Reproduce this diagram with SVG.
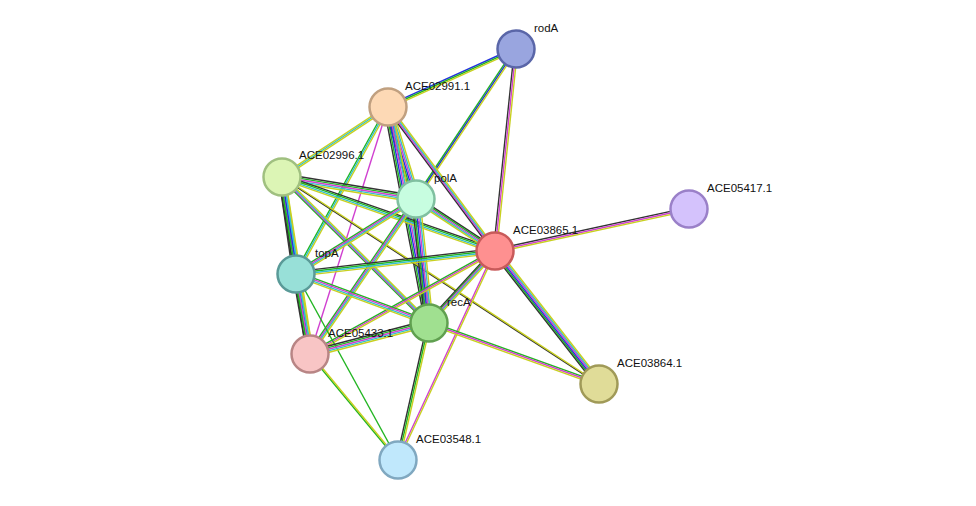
<svg xmlns="http://www.w3.org/2000/svg" xmlns:xlink="http://www.w3.org/1999/xlink" width="976" height="506" viewBox="0 0 976 506">
<style>
line{stroke-width:1.4;fill:none}
.k{stroke:#333}.g{stroke:#22b522}.b{stroke:#2233dd}.m{stroke:#d040d0}.c{stroke:#33c0d0}.y{stroke:#c8d020}
circle{stroke-width:2.5}
text{font-family:"Liberation Sans",Arial,sans-serif;font-size:11.5px;fill:#111}
</style>
<rect width="976" height="506" fill="#fff"/>
<defs>
<line id="e1" x1="516" y1="49" x2="388" y2="107"/>
<line id="e2" x1="516" y1="49" x2="416" y2="199"/>
<line id="e3" x1="516" y1="49" x2="495" y2="251"/>
<line id="e4" x1="388" y1="107" x2="282" y2="177"/>
<line id="e5" x1="388" y1="107" x2="416" y2="199"/>
<line id="e6" x1="388" y1="107" x2="495" y2="251"/>
<line id="e7" x1="388" y1="107" x2="296" y2="274"/>
<line id="e8" x1="388" y1="107" x2="429" y2="323"/>
<line id="e9" x1="388" y1="107" x2="310" y2="354"/>
<line id="e10" x1="282" y1="177" x2="416" y2="199"/>
<line id="e11" x1="282" y1="177" x2="495" y2="251"/>
<line id="e12" x1="282" y1="177" x2="296" y2="274"/>
<line id="e13" x1="282" y1="177" x2="429" y2="323"/>
<line id="e14" x1="282" y1="177" x2="310" y2="354"/>
<line id="e15" x1="282" y1="177" x2="599" y2="384"/>
<line id="e16" x1="416" y1="199" x2="495" y2="251"/>
<line id="e17" x1="416" y1="199" x2="296" y2="274"/>
<line id="e18" x1="416" y1="199" x2="429" y2="323"/>
<line id="e19" x1="416" y1="199" x2="310" y2="354"/>
<line id="e20" x1="495" y1="251" x2="689" y2="209"/>
<line id="e21" x1="495" y1="251" x2="296" y2="274"/>
<line id="e22" x1="495" y1="251" x2="429" y2="323"/>
<line id="e23" x1="495" y1="251" x2="310" y2="354"/>
<line id="e24" x1="495" y1="251" x2="599" y2="384"/>
<line id="e25" x1="495" y1="251" x2="398" y2="460"/>
<line id="e26" x1="296" y1="274" x2="429" y2="323"/>
<line id="e27" x1="296" y1="274" x2="310" y2="354"/>
<line id="e28" x1="296" y1="274" x2="398" y2="460"/>
<line id="e29" x1="429" y1="323" x2="310" y2="354"/>
<line id="e30" x1="429" y1="323" x2="599" y2="384"/>
<line id="e31" x1="429" y1="323" x2="398" y2="460"/>
<line id="e32" x1="310" y1="354" x2="398" y2="460"/>
</defs>
<g id="connectors">
<use href="#e1" class="b" transform="translate(0,-1.6)"/><use href="#e1" class="g"/><use href="#e1" class="y" transform="translate(0,1.6)"/>
<use href="#e2" class="g" transform="translate(-1.6,0)"/><use href="#e2" class="b"/><use href="#e2" class="y" transform="translate(1.6,0)"/>
<use href="#e3" class="k" transform="translate(-1.6,0)"/><use href="#e3" class="m"/><use href="#e3" class="y" transform="translate(1.6,0)"/>
<use href="#e4" class="y" transform="translate(0,-1.6)"/><use href="#e4" class="c"/><use href="#e4" class="y" transform="translate(0,1.6)"/>
<use href="#e5" class="k" transform="translate(-4,0)"/><use href="#e5" class="g" transform="translate(-2.4,0)"/><use href="#e5" class="b" transform="translate(-0.8,0)"/><use href="#e5" class="m" transform="translate(0.8,0)"/><use href="#e5" class="c" transform="translate(2.4,0)"/><use href="#e5" class="y" transform="translate(4,0)"/>
<use href="#e6" class="k" transform="translate(-2.4,0)"/><use href="#e6" class="m" transform="translate(-0.8,0)"/><use href="#e6" class="c" transform="translate(0.8,0)"/><use href="#e6" class="y" transform="translate(2.4,0)"/>
<use href="#e7" class="g" transform="translate(-1.6,0)"/><use href="#e7" class="c"/><use href="#e7" class="y" transform="translate(1.6,0)"/>
<use href="#e8" class="k" transform="translate(-4,0)"/><use href="#e8" class="g" transform="translate(-2.4,0)"/><use href="#e8" class="b" transform="translate(-0.8,0)"/><use href="#e8" class="m" transform="translate(0.8,0)"/><use href="#e8" class="c" transform="translate(2.4,0)"/><use href="#e8" class="y" transform="translate(4,0)"/>
<use href="#e9" class="m"/>
<use href="#e10" class="k" transform="translate(0,-3.2)"/><use href="#e10" class="g" transform="translate(0,-1.6)"/><use href="#e10" class="m"/><use href="#e10" class="c" transform="translate(0,1.6)"/><use href="#e10" class="y" transform="translate(0,3.2)"/>
<use href="#e11" class="k" transform="translate(0,-2.4)"/><use href="#e11" class="g" transform="translate(0,-0.8)"/><use href="#e11" class="c" transform="translate(0,0.8)"/><use href="#e11" class="y" transform="translate(0,2.4)"/>
<use href="#e12" class="k" transform="translate(-3.2,0)"/><use href="#e12" class="g" transform="translate(-1.6,0)"/><use href="#e12" class="m"/><use href="#e12" class="c" transform="translate(1.6,0)"/><use href="#e12" class="y" transform="translate(3.2,0)"/>
<use href="#e13" class="g" transform="translate(-2.4,0)"/><use href="#e13" class="m" transform="translate(-0.8,0)"/><use href="#e13" class="c" transform="translate(0.8,0)"/><use href="#e13" class="y" transform="translate(2.4,0)"/>
<use href="#e14" class="k" transform="translate(-3.2,0)"/><use href="#e14" class="g" transform="translate(-1.6,0)"/><use href="#e14" class="b"/><use href="#e14" class="c" transform="translate(1.6,0)"/><use href="#e14" class="y" transform="translate(3.2,0)"/>
<use href="#e15" class="k" transform="translate(-0.8,0)"/><use href="#e15" class="y" transform="translate(0.8,0)"/>
<use href="#e16" class="k" transform="translate(0,-3.2)"/><use href="#e16" class="g" transform="translate(0,-1.6)"/><use href="#e16" class="m"/><use href="#e16" class="c" transform="translate(0,1.6)"/><use href="#e16" class="y" transform="translate(0,3.2)"/>
<use href="#e17" class="g" transform="translate(0,-2.4)"/><use href="#e17" class="m" transform="translate(0,-0.8)"/><use href="#e17" class="c" transform="translate(0,0.8)"/><use href="#e17" class="y" transform="translate(0,2.4)"/>
<use href="#e18" class="k" transform="translate(-4,0)"/><use href="#e18" class="g" transform="translate(-2.4,0)"/><use href="#e18" class="b" transform="translate(-0.8,0)"/><use href="#e18" class="m" transform="translate(0.8,0)"/><use href="#e18" class="c" transform="translate(2.4,0)"/><use href="#e18" class="y" transform="translate(4,0)"/>
<use href="#e19" class="g" transform="translate(-2.4,0)"/><use href="#e19" class="m" transform="translate(-0.8,0)"/><use href="#e19" class="c" transform="translate(0.8,0)"/><use href="#e19" class="y" transform="translate(2.4,0)"/>
<use href="#e20" class="k" transform="translate(0,-1.6)"/><use href="#e20" class="m"/><use href="#e20" class="y" transform="translate(0,1.6)"/>
<use href="#e21" class="k" transform="translate(0,-2.4)"/><use href="#e21" class="g" transform="translate(0,-0.8)"/><use href="#e21" class="c" transform="translate(0,0.8)"/><use href="#e21" class="y" transform="translate(0,2.4)"/>
<use href="#e22" class="k" transform="translate(0,-3.2)"/><use href="#e22" class="g" transform="translate(0,-1.6)"/><use href="#e22" class="m"/><use href="#e22" class="c" transform="translate(0,1.6)"/><use href="#e22" class="y" transform="translate(0,3.2)"/>
<use href="#e23" class="g" transform="translate(0,-1.6)"/><use href="#e23" class="m"/><use href="#e23" class="y" transform="translate(0,1.6)"/>
<use href="#e24" class="k" transform="translate(-4,0)"/><use href="#e24" class="g" transform="translate(-2.4,0)"/><use href="#e24" class="b" transform="translate(-0.8,0)"/><use href="#e24" class="m" transform="translate(0.8,0)"/><use href="#e24" class="c" transform="translate(2.4,0)"/><use href="#e24" class="y" transform="translate(4,0)"/>
<use href="#e25" class="m" transform="translate(-0.8,0)"/><use href="#e25" class="y" transform="translate(0.8,0)"/>
<use href="#e26" class="g" transform="translate(0,-2.4)"/><use href="#e26" class="m" transform="translate(0,-0.8)"/><use href="#e26" class="c" transform="translate(0,0.8)"/><use href="#e26" class="y" transform="translate(0,2.4)"/>
<use href="#e27" class="k" transform="translate(-3.2,0)"/><use href="#e27" class="g" transform="translate(-1.6,0)"/><use href="#e27" class="m"/><use href="#e27" class="c" transform="translate(1.6,0)"/><use href="#e27" class="y" transform="translate(3.2,0)"/>
<use href="#e28" class="g"/>
<use href="#e29" class="k" transform="translate(0,-3.2)"/><use href="#e29" class="g" transform="translate(0,-1.6)"/><use href="#e29" class="m"/><use href="#e29" class="c" transform="translate(0,1.6)"/><use href="#e29" class="y" transform="translate(0,3.2)"/>
<use href="#e30" class="g" transform="translate(0,-1.6)"/><use href="#e30" class="m"/><use href="#e30" class="y" transform="translate(0,1.6)"/>
<use href="#e31" class="k" transform="translate(-1.6,0)"/><use href="#e31" class="g"/><use href="#e31" class="y" transform="translate(1.6,0)"/>
<use href="#e32" class="g" transform="translate(-0.8,0)"/><use href="#e32" class="y" transform="translate(0.8,0)"/>
</g>
<g id="rodA"><circle cx="516" cy="49" r="18.5" fill="#99a5df" stroke="#5a66a8"/><text x="534" y="32">rodA</text></g>
<g id="ACE02991.1"><circle cx="388" cy="107" r="18.5" fill="#fdd9b5" stroke="#c0a080"/><text x="405" y="90">ACE02991.1</text></g>
<g id="ACE02996.1"><circle cx="282" cy="177" r="18.5" fill="#dcf5b5" stroke="#a0c080"/><text x="299" y="159">ACE02996.1</text></g>
<g id="polA"><circle cx="416" cy="199" r="18.5" fill="#c7fde0" stroke="#80c0a0"/><text x="434" y="182">polA</text></g>
<g id="ACE05417.1"><circle cx="689" cy="209" r="18.5" fill="#d4c2fc" stroke="#9a80c8"/><text x="707" y="192">ACE05417.1</text></g>
<g id="ACE03865.1"><circle cx="495" cy="251" r="18.5" fill="#fe9090" stroke="#c85a5a"/><text x="513" y="234">ACE03865.1</text></g>
<g id="topA"><circle cx="296" cy="274" r="18.5" fill="#98e0d8" stroke="#5a9a98"/><text x="315" y="257">topA</text></g>
<g id="recA"><circle cx="429" cy="323" r="18.5" fill="#a0e090" stroke="#60a050"/><text x="447" y="306">recA</text></g>
<g id="ACE05433.1"><circle cx="310" cy="354" r="18.5" fill="#f8c5c5" stroke="#b88585"/><text x="328" y="337">ACE05433.1</text></g>
<g id="ACE03864.1"><circle cx="599" cy="384" r="18.5" fill="#e0dc98" stroke="#a09a58"/><text x="617" y="367">ACE03864.1</text></g>
<g id="ACE03548.1"><circle cx="398" cy="460" r="18.5" fill="#c0e8fc" stroke="#80a8c0"/><text x="416" y="443">ACE03548.1</text></g>
</svg>
